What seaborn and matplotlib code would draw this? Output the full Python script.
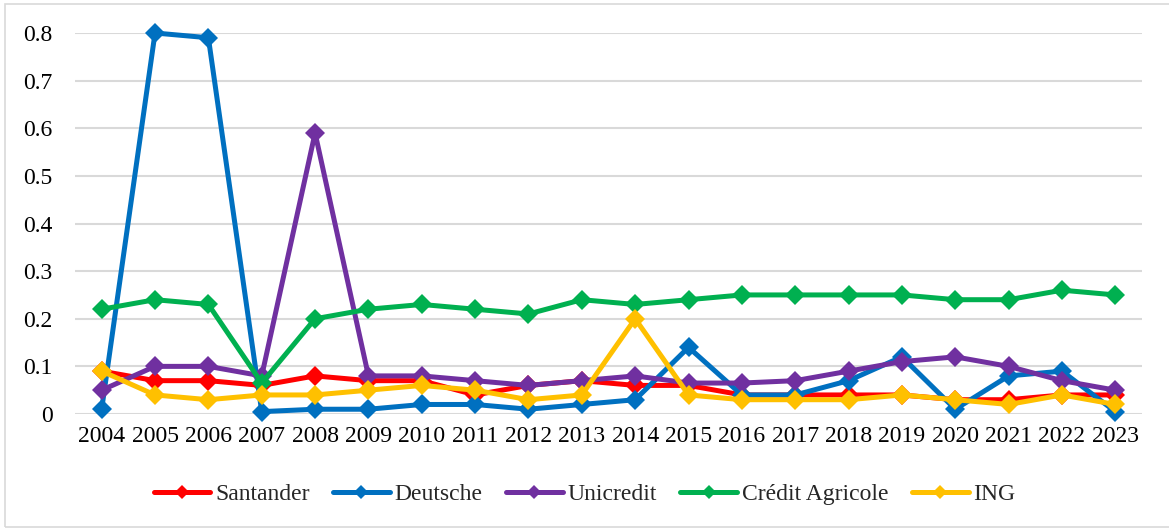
import matplotlib
matplotlib.use("Agg")
import matplotlib.pyplot as plt
import seaborn as sns
import pandas as pd
from matplotlib.patches import Rectangle
from matplotlib.lines import Line2D

years = list(range(2004, 2024))
santander = [0.09, 0.07, 0.07, 0.06, 0.08, 0.07, 0.07, 0.04, 0.06, 0.07,
             0.06, 0.06, 0.04, 0.04, 0.04, 0.04, 0.03, 0.03, 0.04, 0.04]
deutsche = [0.01, 0.80, 0.79, 0.005, 0.01, 0.01, 0.02, 0.02, 0.01, 0.02,
            0.03, 0.14, 0.04, 0.04, 0.07, 0.12, 0.01, 0.08, 0.09, 0.005]
unicredit = [0.05, 0.10, 0.10, 0.08, 0.59, 0.08, 0.08, 0.07, 0.06, 0.07,
             0.08, 0.065, 0.065, 0.07, 0.09, 0.11, 0.12, 0.10, 0.07, 0.05]
credit_agricole = [0.22, 0.24, 0.23, 0.065, 0.20, 0.22, 0.23, 0.22, 0.21, 0.24,
                   0.23, 0.24, 0.25, 0.25, 0.25, 0.25, 0.24, 0.24, 0.26, 0.25]
ing = [0.09, 0.04, 0.03, 0.04, 0.04, 0.05, 0.06, 0.05, 0.03, 0.04,
       0.20, 0.04, 0.03, 0.03, 0.03, 0.04, 0.03, 0.02, 0.04, 0.02]

series_names = ["Santander", "Deutsche", "Unicredit", "Crédit Agricole", "ING"]
series_values = [santander, deutsche, unicredit, credit_agricole, ing]
colors = ["#FF0000", "#0070C0", "#7030A0", "#00B050", "#FFC000"]
yticks = [0, 0.1, 0.2, 0.3, 0.4, 0.5, 0.6, 0.7, 0.8]
ytick_labels = ["0", "0.1", "0.2", "0.3", "0.4", "0.5", "0.6", "0.7", "0.8"]

rows = []
for name, vals in zip(series_names, series_values):
    for y, v in zip(years, vals):
        rows.append({"Year": y, "Value": v, "Bank": name})
df = pd.DataFrame(rows)

sns.set_theme(style="white")
plt.rcParams["font.family"] = ["Liberation Serif", "DejaVu Serif"]

fig = plt.figure(figsize=(11.69, 5.29), dpi=100)
ax = fig.add_axes([75/1169, 1-414/529, (1142-75)/1169, (414-33)/529])

palette = dict(zip(series_names, colors))
sns.lineplot(data=df, x="Year", y="Value", hue="Bank", hue_order=series_names,
             palette=palette, marker="D", markersize=10, linewidth=3.6,
             markeredgewidth=0, ax=ax, legend=False, clip_on=False,
             sort=False, errorbar=None)

ax.set_xlim(2003.5, 2023.5)
ax.set_ylim(0, 0.8)
ax.set_xticks(years)
ax.set_xticklabels([str(y) for y in years], fontsize=17, color="black")
ax.set_yticks(yticks)
ax.set_yticklabels(ytick_labels, fontsize=17, color="black")
ax.tick_params(axis="both", length=0)
ax.tick_params(axis="y", pad=16)
ax.tick_params(axis="x", pad=9)
ax.set_xlabel("")
ax.set_ylabel("")
for s in ax.spines.values():
    s.set_visible(False)
ax.yaxis.grid(True, color="#D9D9D9", linewidth=1.5)
ax.xaxis.grid(False)
ax.set_axisbelow(True)

handles = [Line2D([0], [0], color=c, linewidth=3.6, marker="D", markersize=7,
                  markeredgewidth=0, solid_capstyle="round") for c in colors]
fig.legend(handles, series_names, loc="center", bbox_to_anchor=(0.5, 1-494/529),
           ncol=5, frameon=False, fontsize=17, handlelength=2.4,
           handletextpad=0.2, columnspacing=1.0)

fig.patches.append(Rectangle((5/1169, 0.004), 1.2, 1-0.004-4/529,
                             transform=fig.transFigure, fill=False,
                             edgecolor="#D9D9D9", linewidth=1.2))

fig.savefig("out.png", dpi=100)
